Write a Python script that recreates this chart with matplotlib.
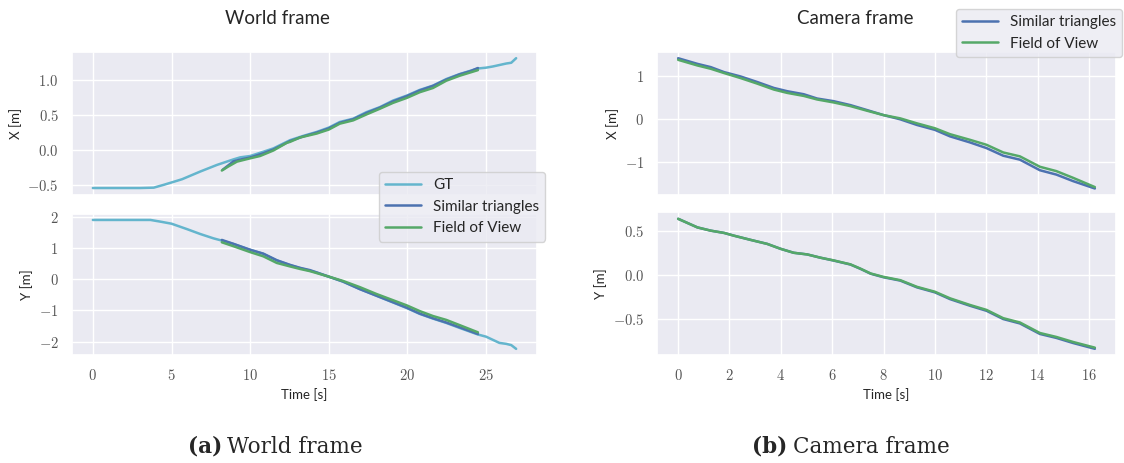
import matplotlib.pyplot as plt
import matplotlib.ticker as ticker
import seaborn as sns

# ---- world frame: ground truth ----
gt_x_t = [0, 1, 2, 3, 3.87, 4.5, 5.0, 5.67, 6.83, 7.89, 8.94, 9.37, 10.0, 10.84, 11.48,
          12.54, 13.38, 14.23, 15.0, 15.7, 16.55, 17.4, 18.24, 19.09, 19.97, 20.78, 21.62,
          22.47, 23.32, 24.48, 25.0, 25.43, 26.28, 26.6, 26.91]
gt_x = [-0.545, -0.545, -0.545, -0.545, -0.54, -0.50, -0.466, -0.42, -0.31, -0.216, -0.137,
        -0.108, -0.089, -0.028, 0.02, 0.137, 0.198, 0.254, 0.316, 0.396, 0.443, 0.537, 0.607,
        0.702, 0.773, 0.853, 0.914, 1.008, 1.079, 1.158, 1.17, 1.187, 1.229, 1.24, 1.305]

gt_y_t = [0, 1, 2, 3, 3.66, 4.29, 5.0, 5.99, 6.83, 7.67, 8.2, 8.94, 10.0, 10.84, 11.69, 12.54,
          13.38, 14.2, 15.0, 15.9, 16.97, 18.03, 19.09, 19.97, 20.78, 21.62, 22.47, 23.32,
          24.48, 25.0, 25.85, 26.28, 26.6, 26.91]
gt_y = [1.90, 1.90, 1.90, 1.90, 1.90, 1.846, 1.78, 1.605, 1.449, 1.31, 1.238, 1.13, 0.94,
        0.815, 0.605, 0.45, 0.33, 0.22, 0.08, -0.075, -0.315, -0.53, -0.745, -0.925, -1.11,
        -1.26, -1.40, -1.56, -1.77, -1.84, -2.04, -2.07, -2.11, -2.23]

# ---- world frame: estimates ----
st_x_t = [8.25, 8.94, 9.37, 10.0, 10.84, 11.48, 12.54, 13.38, 14.23, 15.0, 15.7, 16.55, 17.4,
          18.24, 19.09, 19.97, 20.78, 21.62, 22.47, 23.32, 24.0, 24.48]
st_x = [-0.285, -0.165, -0.14, -0.11, -0.05, 0.005, 0.125, 0.19, 0.245, 0.305, 0.385, 0.435,
        0.525, 0.6, 0.69, 0.765, 0.845, 0.91, 1.0, 1.075, 1.12, 1.165]
fov_x_t = [8.2, 8.6, 9.16, 10.0, 10.63, 11.48, 12.33, 12.54, 13.17, 14.23, 15.0, 15.7, 16.55,
           17.4, 18.24, 19.09, 19.97, 20.78, 21.62, 22.47, 23.32, 24.48]
fov_x = [-0.296, -0.24, -0.169, -0.122, -0.089, -0.01, 0.099, 0.113, 0.175, 0.231, 0.288,
         0.372, 0.419, 0.504, 0.584, 0.669, 0.74, 0.82, 0.88, 0.984, 1.055, 1.135]

st_y_t = [8.2, 8.94, 10.0, 10.84, 11.69, 12.54, 13.17, 13.8, 15.0, 15.9, 16.97, 18.03, 19.09,
          19.97, 20.78, 21.62, 22.47, 23.32, 24.48]
st_y = [1.26, 1.134, 0.945, 0.819, 0.61, 0.46, 0.365, 0.293, 0.084, -0.074, -0.315, -0.526,
        -0.737, -0.914, -1.10, -1.25, -1.386, -1.54, -1.754]
fov_y_t = [8.2, 8.94, 10.0, 10.84, 11.69, 12.54, 13.17, 13.8, 15.0, 15.9, 16.97, 18.03, 19.09,
           19.97, 20.78, 21.62, 22.47, 23.32, 24.48]
fov_y = [1.184, 1.058, 0.87, 0.734, 0.523, 0.41, 0.33, 0.26, 0.084, -0.053, -0.252, -0.472,
         -0.673, -0.84, -1.02, -1.178, -1.303, -1.47, -1.70]

# ---- camera frame ----
cam_x_t = [0, 0.75, 1.27, 1.79, 2.43, 3.08, 3.73, 4.25, 4.89, 5.41, 6.06, 6.71, 7.36, 8.0,
           8.65, 9.3, 10.0, 10.59, 11.37, 12.01, 12.66, 13.31, 14.09, 14.73, 15.38, 16.23]
cam_st_x = [1.40, 1.27, 1.195, 1.08, 0.98, 0.852, 0.715, 0.64, 0.571, 0.472, 0.41, 0.32,
            0.205, 0.09, -0.007, -0.137, -0.25, -0.40, -0.54, -0.67, -0.845, -0.936, -1.18,
            -1.28, -1.43, -1.60]
cam_fov_x = [1.363, 1.233, 1.157, 1.058, 0.943, 0.815, 0.678, 0.601, 0.532, 0.45, 0.381,
             0.297, 0.19, 0.09, 0.015, -0.10, -0.213, -0.35, -0.48, -0.594, -0.77, -0.86,
             -1.10, -1.20, -1.354, -1.568]

cam_y_t = [0, 0.75, 1.27, 1.79, 2.17, 2.82, 3.47, 3.99, 4.5, 5.03, 5.54, 6.06, 6.71, 7.1, 7.5,
           8.0, 8.65, 9.3, 10.0, 10.59, 11.37, 12.01, 12.66, 13.31, 14.09, 14.73, 15.38, 16.23]
cam_st_y = [0.643, 0.545, 0.508, 0.482, 0.451, 0.403, 0.357, 0.301, 0.256, 0.237, 0.2, 0.167,
            0.122, 0.073, 0.017, -0.023, -0.061, -0.138, -0.195, -0.272, -0.348, -0.405,
            -0.499, -0.549, -0.669, -0.714, -0.772, -0.838]
cam_fov_y = [0.643, 0.545, 0.508, 0.482, 0.451, 0.403, 0.357, 0.301, 0.256, 0.237, 0.2, 0.169,
             0.124, 0.075, 0.02, -0.019, -0.056, -0.132, -0.188, -0.263, -0.339, -0.395,
             -0.489, -0.538, -0.658, -0.703, -0.76, -0.825]

sns.set_theme(style="darkgrid")
plt.rcParams['font.family'] = ['Lato', 'DejaVu Sans']
plt.rcParams['mathtext.fontset'] = 'cm'

c_gt, c_st, c_fov = '#64B5CD', '#4C72B0', '#55A868'
lw = 1.8

W, H = 1124, 463
fig = plt.figure(figsize=(W / 100, H / 100), dpi=100)


def box(x0, y0, x1, y1):
    # pixel box (top-left origin) -> figure rect
    return [x0 / W, 1 - y1 / H, (x1 - x0) / W, (y1 - y0) / H]


def cm_fmt(dec):
    def f(v, pos):
        return f"${v:.{dec}f}$"
    return ticker.FuncFormatter(f)


ax1 = fig.add_axes(box(71.7, 51.7, 537.3, 194.5))
ax2 = fig.add_axes(box(71.7, 213.5, 537.3, 355.3), sharex=ax1)
ax3 = fig.add_axes(box(657.3, 51.7, 1115.7, 195))
ax4 = fig.add_axes(box(657.3, 212.3, 1115.7, 355.3), sharex=ax3)

ax1.plot(gt_x_t, gt_x, color=c_gt, lw=lw, label='GT')
ax1.plot(st_x_t, st_x, color=c_st, lw=lw, label='Similar triangles')
ax1.plot(fov_x_t, fov_x, color=c_fov, lw=lw, label='Field of View')
ax2.plot(gt_y_t, gt_y, color=c_gt, lw=lw)
ax2.plot(st_y_t, st_y, color=c_st, lw=lw)
ax2.plot(fov_y_t, fov_y, color=c_fov, lw=lw)

ax3.plot(cam_x_t, cam_st_x, color=c_st, lw=lw, label='Similar triangles')
ax3.plot(cam_x_t, cam_fov_x, color=c_fov, lw=lw, label='Field of View')
ax4.plot(cam_y_t, cam_st_y, color=c_st, lw=lw)
ax4.plot(cam_y_t, cam_fov_y, color=c_fov, lw=lw)

ax1.yaxis.set_major_locator(ticker.MultipleLocator(0.5))
ax1.yaxis.set_major_formatter(cm_fmt(1))
ax2.yaxis.set_major_locator(ticker.MultipleLocator(1))
ax2.yaxis.set_major_formatter(cm_fmt(0))
ax2.xaxis.set_major_locator(ticker.MultipleLocator(5))
ax2.xaxis.set_major_formatter(cm_fmt(0))
ax3.yaxis.set_major_locator(ticker.MultipleLocator(1))
ax3.yaxis.set_major_formatter(cm_fmt(0))
ax4.yaxis.set_major_locator(ticker.MultipleLocator(0.5))
ax4.yaxis.set_major_formatter(cm_fmt(1))
ax4.xaxis.set_major_locator(ticker.MultipleLocator(2))
ax4.xaxis.set_major_formatter(cm_fmt(0))

for ax in (ax1, ax3):
    ax.tick_params(labelbottom=False)
for ax in (ax1, ax2, ax3, ax4):
    ax.tick_params(labelsize=10.5, colors='#555555')

ax1.set_ylabel('X [m]', fontsize=9.5)
ax2.set_ylabel('Y [m]', fontsize=9.5)
ax3.set_ylabel('X [m]', fontsize=9.5)
ax4.set_ylabel('Y [m]', fontsize=9.5)
ax2.set_xlabel('Time [s]', fontsize=9.5, labelpad=3)
ax4.set_xlabel('Time [s]', fontsize=9.5, labelpad=3)

fig.text(277 / W, 1 - 18 / H, 'World frame', ha='center', va='center', fontsize=13.5)
fig.text(855 / W, 1 - 18 / H, 'Camera frame', ha='center', va='center', fontsize=13.5)

h, l = ax1.get_legend_handles_labels()
fig.legend(h, l, loc='upper right', bbox_to_anchor=(545 / W, 1 - 172 / H),
           borderaxespad=0, fontsize=11, handlelength=2.3)
h, l = ax3.get_legend_handles_labels()
fig.legend(h, l, loc='upper right', bbox_to_anchor=(1122 / W, 1 - 9 / H),
           borderaxespad=0, fontsize=11, handlelength=2.3)

cap = dict(va='center', fontsize=15.5, family='DejaVu Serif')
fig.text(188 / W, 1 - 447 / H, '(a)', ha='left', fontweight='bold', **cap)
fig.text(227 / W, 1 - 447 / H, 'World frame', ha='left', **cap)
fig.text(752 / W, 1 - 447 / H, '(b)', ha='left', fontweight='bold', **cap)
fig.text(793 / W, 1 - 447 / H, 'Camera frame', ha='left', **cap)

fig.savefig('out.png', dpi=100)
